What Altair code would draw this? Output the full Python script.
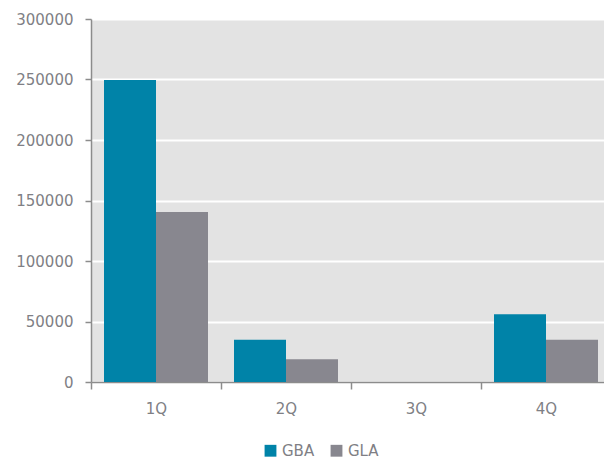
import altair as alt
import pandas as pd

quarters = ["1Q", "2Q", "3Q", "4Q"]
series = ["GBA", "GLA"]
gba = [249500, 35000, 0, 56000]
gla = [140500, 18800, 0, 35000]
y_ticks = [0, 50000, 100000, 150000, 200000, 250000, 300000]
colors = ["#0083a8", "#88878f"]

rows = []
for q, a, b in zip(quarters, gba, gla):
    rows.append({"q": q, "s": "GBA", "v": a})
    rows.append({"q": q, "s": "GLA", "v": b})
df = pd.DataFrame(rows)

font = "DejaVu Sans"
label_color = "#7f7f85"
axis_color = "#8c8c8c"

chart = alt.Chart(df).mark_bar().encode(
    x=alt.X("q:N", sort=quarters, title=None,
            scale=alt.Scale(domain=quarters, range=[0, 520], paddingInner=0, paddingOuter=0),
            axis=alt.Axis(tickBand="extent", grid=False, labelAngle=0, tickSize=7,
                          labelPadding=12, domainColor=axis_color, tickColor=axis_color,
                          domainWidth=1.5, tickWidth=1.5, labelFont=font, labelFontSize=15,
                          labelColor=label_color)),
    xOffset=alt.XOffset("s:N", sort=series,
                        scale=alt.Scale(paddingInner=0, paddingOuter=0.25)),
    y=alt.Y("v:Q", title=None,
            scale=alt.Scale(domain=[0, 300000], nice=False),
            axis=alt.Axis(values=y_ticks, grid=True, gridColor="white", gridWidth=2,
                          tickSize=6, labelPadding=12, domainColor=axis_color,
                          tickColor=axis_color, domainWidth=1.5, tickWidth=1.5,
                          labelFont=font, labelFontSize=15, labelColor=label_color,
                          format="d")),
    color=alt.Color("s:N", sort=series,
                    scale=alt.Scale(domain=series, range=colors),
                    legend=alt.Legend(title=None, orient="none", direction="horizontal",
                                      legendX=172, legendY=424, symbolType="square",
                                      symbolSize=140, symbolStrokeWidth=0,
                                      labelFont=font, labelFontSize=15,
                                      labelColor=label_color, columnPadding=14,
                                      labelOffset=4, padding=0)),
).properties(
    width=513, height=363,
    autosize=alt.AutoSizeParams(type="none"),
    padding={"left": 91, "top": 19, "right": 0, "bottom": 77},
    background="white",
).configure_view(
    fill="#e3e3e3", stroke="transparent"
)

chart.save("out.html", embed_options={"renderer": "svg", "actions": False})
